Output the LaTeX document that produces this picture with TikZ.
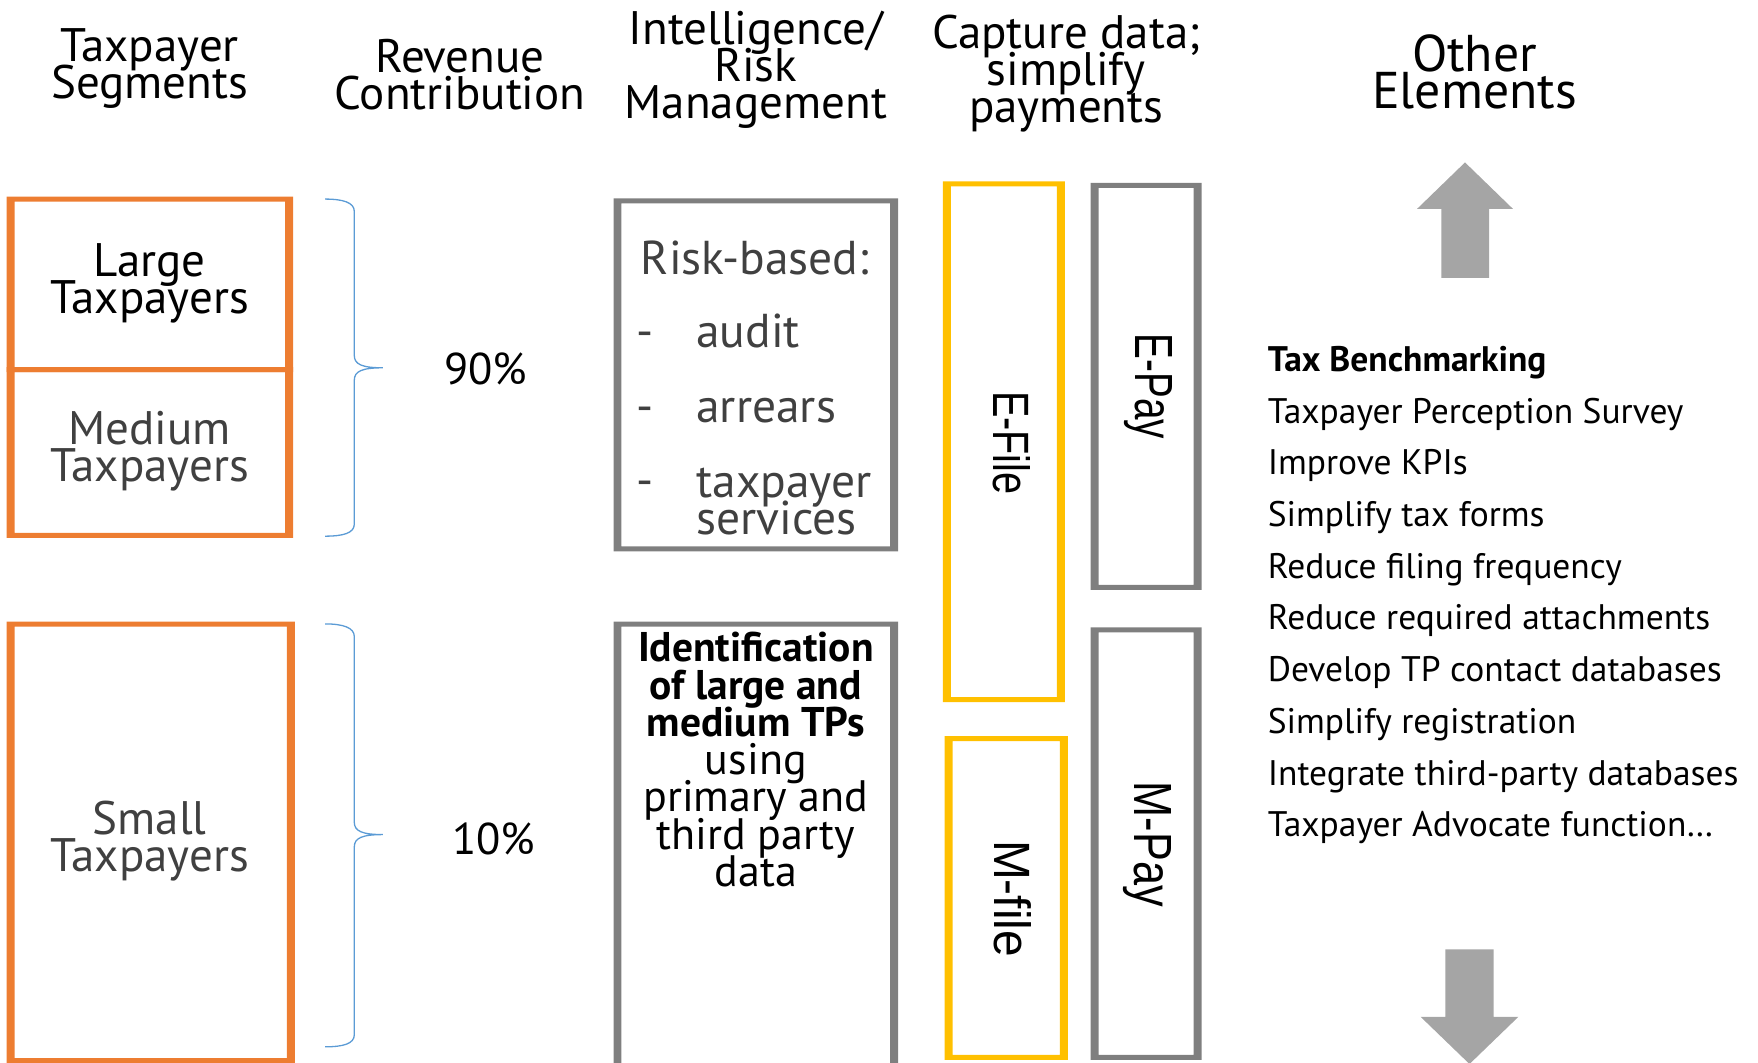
\documentclass[tikz,border=0pt]{standalone}
\usepackage{fontspec}
\usepackage{graphicx}
\setmainfont{PT Sans}
\newfontfamily\arialf{Liberation Sans}
\usetikzlibrary{fit}
\definecolor{orng}{HTML}{ED7D31}
\definecolor{gry}{HTML}{7F7F7F}
\definecolor{yel}{HTML}{FFC000}
\definecolor{blu}{HTML}{5B9BD5}
\definecolor{arrg}{HTML}{A5A5A5}
\definecolor{dtxt}{HTML}{404040}
\newcommand\tightlines{\lineskiplimit -100pt\relax}
\newcommand\frameit[2]{%
  \fill[#1,even odd rule]
    ([xshift=-4pt,yshift=2.5pt]#2.north west) rectangle ([xshift=4pt,yshift=-2.5pt]#2.south east)
    ([xshift=4pt,yshift=-2.5pt]#2.north west) rectangle ([xshift=-4pt,yshift=2.5pt]#2.south east);}
\newcommand\boldline[1]{{\fontsize{41.5}{37.5}\selectfont\bfseries #1}}
\tikzset{
  region/.style={inner sep=0pt, outer sep=0pt, draw=none},
  hdr/.style={font=\fontsize{47}{37}\selectfont\tightlines, align=center, inner sep=0pt, anchor=north},
  btxt/.style={font=\fontsize{47}{37}\selectfont\tightlines, align=center, inner sep=0pt, anchor=north},
  pct/.style={font=\fontsize{44.5}{37}\selectfont, inner sep=0pt, anchor=base},
  rtxt/.style={font=\fontsize{47.5}{37}\selectfont\tightlines, text=dtxt, inner sep=0pt},
  itxt/.style={font=\fontsize{44}{37.5}\selectfont\tightlines, align=center, inner sep=0pt, anchor=north},
  vtxt/.style={font=\arialf\fontsize{40}{40}\selectfont, rotate=-90, inner sep=0pt, anchor=base west},
  lst/.style={font=\fontsize{35.5}{51.75}\selectfont, align=left, inner sep=0pt, anchor=north west},
  bracepath/.style={draw=blu, line width=1.3pt}
}
\begin{document}
\begin{tikzpicture}[x=1.125pt,y=-1.125pt]
\useasboundingbox (0,0) rectangle (1563,945);
\clip (0,0) rectangle (1563,945);

% headers
\node[hdr] (hseg) at (133,25) {Taxpayer\\Segments};
\node[hdr] (hrev) at (409,35) {Revenue\\Contribution};
\node[hdr] (hint) at (672,10) {Intelligence/\\Risk\\Management};
\node[hdr] (hcap) at (948,13) {Capture data;\\simplify\\payments};
\node[hdr, font=\fontsize{51.7}{37}\selectfont\tightlines] (hoth) at (1311,30.5) {Other\\Elements};

% regions
\node[region, fit={(9.4,177) (257,328.6)}] (large) {};
\node[region, fit={(9.4,328.6) (257,476)}] (medium) {};
\node[region, fit={(9.4,555) (258.5,943)}] (small) {};
\node[region, fit={(549,178.5) (795,488)}] (risk) {};
\node[region, fit={(549,555) (795,965)}] (ident) {};
\node[region, fit={(841.8,163.5) (943.3,622)}] (efile) {};
\node[region, fit={(843.3,656.7) (945.8,940)}] (mfile) {};
\node[region, fit={(973.2,164.8) (1064.8,522.2)}] (epay) {};
\node[region, fit={(973.2,559.9) (1064.8,940)}] (mpay) {};

\frameit{orng}{large}
\frameit{orng}{medium}
\frameit{orng}{small}
\frameit{gry}{risk}
\frameit{gry}{ident}
\frameit{yel}{efile}
\frameit{yel}{mfile}
\frameit{gry}{epay}
\frameit{gry}{mpay}

% segment texts
\node[btxt] (tlarge) at (133,216) {Large\\Taxpayers};
\node[btxt, text=dtxt] (tmedium) at (133,365) {Medium\\Taxpayers};
\node[btxt, text=dtxt] (tsmall) at (133,712) {Small\\Taxpayers};

% braces
\draw[bracepath] (289,177) .. controls (305,177) and (315,180) .. (315,188) -- (315,316)
  .. controls (315,324) and (322,327) .. (340.5,327)
  .. controls (322,327) and (315,330) .. (315,338) -- (315,466)
  .. controls (315,474) and (305,476.7) .. (289,476.7);
\draw[bracepath] (289,554.7) .. controls (305,554.7) and (315,558) .. (315,566) -- (315,731)
  .. controls (315,739) and (322,742) .. (340.5,742)
  .. controls (322,742) and (315,745) .. (315,753) -- (315,920)
  .. controls (315,928) and (305,930.7) .. (289,930.7);

% percentages
\node[pct] (p90) at (432,342) {90\%};
\node[pct] (p10) at (439,760) {10\%};

% risk box
\node[rtxt, anchor=base] (rb) at (671,244) {Risk-based:};
\node[rtxt, anchor=base west] (d1) at (566,309) {-};
\node[rtxt, anchor=base west] (w1) at (619,309) {audit};
\node[rtxt, anchor=base west] (d2) at (566,376) {-};
\node[rtxt, anchor=base west] (w2) at (619,376) {arrears};
\node[rtxt, anchor=base west] (d3) at (566,441) {-};
\node[rtxt, anchor=north west, align=left] (w3) at (619,416) {taxpayer\\services};

% identification box
\node[itxt] (idt) at (672,562) {\boldline{Identification}\\\boldline{of large and}\\\boldline{medium TPs}\\using\\primary and\\third party\\data};

% vertical labels
\node[vtxt] (tef) at (883,347.5) {\resizebox{103.5pt}{37pt}{E-File}};
\node[vtxt] (tep) at (1009.4,296.7) {\resizebox{105.3pt}{37pt}{E-Pay}};
\node[vtxt] (tmf) at (884.6,746.7) {\resizebox{117pt}{37pt}{M-file}};
\node[vtxt] (tmp) at (1009,695) {\resizebox{125pt}{37pt}{M-Pay}};

% arrows
\fill[arrg] (1302.5,144.4) -- (1345,185.6) -- (1324,185.6) -- (1324,247) -- (1281.5,247)
  -- (1281.5,185.6) -- (1260,185.6) -- cycle;
\fill[arrg] (1306.5,946) -- (1350,904) -- (1328,904) -- (1328,844) -- (1285,844)
  -- (1285,904) -- (1263,904) -- cycle;

% list
\node[lst] (list) at (1127,307.5) {\textbf{Tax Benchmarking}\\Taxpayer Perception Survey\\Improve KPIs\\Simplify tax forms\\Reduce filing frequency\\Reduce required attachments\\Develop TP contact databases\\Simplify registration\\Integrate third-party databases\\Taxpayer Advocate function\ldots};
\end{tikzpicture}
\end{document}
